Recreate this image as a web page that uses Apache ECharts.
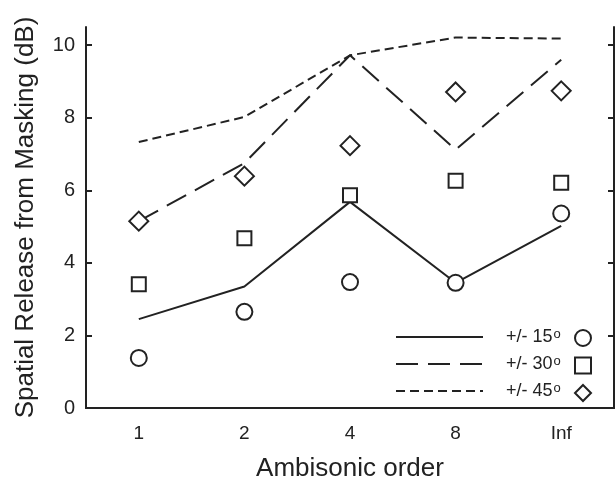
<!DOCTYPE html>
<html>
<head>
<meta charset="utf-8">
<script src="https://cdn.jsdelivr.net/npm/echarts@6/dist/echarts.min.js"></script>
<style>
html, body { margin: 0; padding: 0; background: #fff; }
#chart { width: 615px; height: 483px; }
</style>
</head>
<body>
<div id="chart"></div>
<script>
// ambisonic orders on the x axis
var orders = ['1', '2', '4', '8', 'Inf'];
var yTicks = [0, 2, 4, 6, 8, 10];

// lines (model) and symbols (measured), one pair per angle
var line15 = [2.45, 3.35, 5.68, 3.45, 5.02];
var line30 = [5.15, 6.75, 9.72, 7.12, 9.6];
var line45 = [7.33, 8.02, 9.72, 10.21, 10.18];
var pts15 = [1.38, 2.65, 3.47, 3.45, 5.36];
var pts30 = [3.41, 4.68, 5.86, 6.26, 6.21];
var pts45 = [5.15, 6.39, 7.23, 8.71, 8.74];

var ink = '#222';
var font = 'Liberation Sans, Arial, sans-serif';

function lineSeries(name, data, dash) {
	return {
		name: name,
		type: 'line',
		data: data,
		symbol: 'none',
		z: 2,
		lineStyle: { color: ink, width: 2, type: dash },
		itemStyle: { color: ink }
	};
}
function ptsSeries(name, data, symbol, size) {
	return {
		name: name,
		type: 'scatter',
		data: data,
		symbol: symbol,
		symbolSize: size,
		z: 3,
		itemStyle: { color: '#fff', borderColor: ink, borderWidth: 2, opacity: 1 }
	};
}

var myChart = echarts.init(document.getElementById('chart'));
var option = {
	backgroundColor: '#fff',
	animation: false,
	textStyle: { fontFamily: font, color: ink },
	grid: { left: 86, right: 1, top: 27, bottom: 75, outerBoundsMode: 'none' },
	legend: [{
		orient: 'vertical',
		left: 395,
		top: 328,
		padding: 0,
		itemWidth: 87,
		itemHeight: 18,
		itemGap: 8,
		selectedMode: false,
		itemStyle: { opacity: 0 },
		data: ['+/- 15', '+/- 30', '+/- 45'],
		formatter: function (name) { return name + '{sup|o}'; },
		textStyle: {
			fontFamily: font, fontSize: 18, lineHeight: 18, color: ink, padding: [0, 0, 0, 18],
			rich: { sup: { fontFamily: font, fontSize: 13, lineHeight: 18, color: ink, verticalAlign: 'top', padding: [0, 0, 6, 1] } }
		}
	}, {
		orient: 'vertical',
		left: 574,
		top: 329,
		padding: 0,
		itemWidth: 16,
		itemHeight: 16,
		itemGap: 9.5,
		selectedMode: false,
		data: ['o15', 'o30', 'o45'],
		formatter: function () { return ''; }
	}],
	xAxis: [{
		type: 'category',
		data: orders,
		boundaryGap: true,
		name: 'Ambisonic order',
		nameLocation: 'middle',
		nameGap: 48,
		nameTextStyle: { fontFamily: font, fontSize: 26, color: ink },
		axisLine: { lineStyle: { color: ink, width: 2 } },
		axisTick: { inside: true, alignWithLabel: true, length: 6, lineStyle: { color: ink, width: 2 } },
		axisLabel: { fontFamily: font, fontSize: 19, color: ink, margin: 16 },
		splitLine: { show: false }
	}, {
		type: 'category',
		data: orders,
		position: 'top',
		boundaryGap: true,
		axisLine: { lineStyle: { color: ink, width: 2 } },
		axisTick: { inside: true, alignWithLabel: true, length: 6, lineStyle: { color: ink, width: 2 } },
		axisLabel: { show: false },
		splitLine: { show: false }
	}],
	yAxis: [{
		type: 'value',
		min: 0,
		max: 10.5,
		name: 'Spatial Release from Masking (dB)',
		nameLocation: 'middle',
		nameGap: 47,
		nameTextStyle: { fontFamily: font, fontSize: 26, color: ink },
		axisLine: { show: true, lineStyle: { color: ink, width: 2 } },
		axisTick: { show: true, inside: true, length: 6, customValues: yTicks, lineStyle: { color: ink, width: 2 } },
		axisLabel: { fontFamily: font, fontSize: 20, color: ink, margin: 11, customValues: yTicks },
		splitLine: { show: false }
	}, {
		type: 'value',
		min: 0,
		max: 10.5,
		position: 'right',
		axisLine: { show: true, lineStyle: { color: ink, width: 2 } },
		axisTick: { show: true, inside: true, length: 6, customValues: yTicks, lineStyle: { color: ink, width: 2 } },
		axisLabel: { show: false },
		splitLine: { show: false }
	}],
	series: [
		lineSeries('+/- 15', line15, 'solid'),
		lineSeries('+/- 30', line30, [22, 10]),
		lineSeries('+/- 45', line45, [9, 5]),
		ptsSeries('o15', pts15, 'circle', 16),
		ptsSeries('o30', pts30, 'rect', 14),
		ptsSeries('o45', pts45, 'diamond', [19, 19])
	]
};
myChart.setOption(option);
</script>
</body>
</html>
